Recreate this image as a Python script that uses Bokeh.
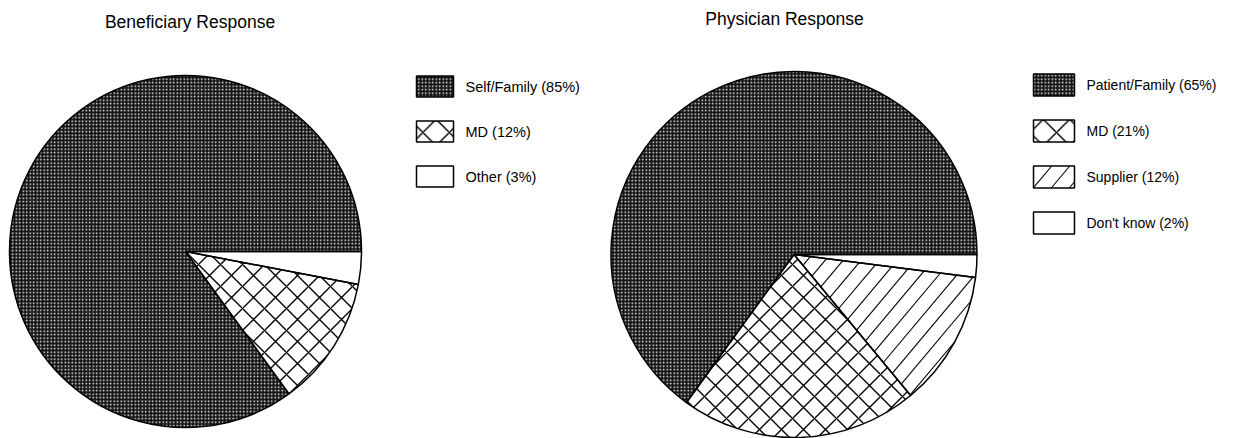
import math
from bokeh.plotting import figure
from bokeh.models import ColumnDataSource, Range1d
from bokeh.core.properties import value
from bokeh.embed import file_html
from bokeh.resources import INLINE

# ---- data ----
ben_title = "Beneficiary Response"
ben_labels = ["Self/Family", "MD", "Other"]
ben_values = [85, 12, 3]

phy_title = "Physician Response"
phy_labels = ["Patient/Family", "MD", "Supplier", "Don't know"]
phy_values = [65, 21, 12, 2]

# ---- styles ----
STYLE = {
    "Self/Family": dict(fill="#151515", pat="dot", hc="#f0f0f0", hs=3.5, hw=1.15),
    "Patient/Family": dict(fill="#151515", pat="dot", hc="#f0f0f0", hs=3.5, hw=1.15),
    "MD": dict(fill="white", pat="diagonal_cross", hc="black", hs=22, hw=1.4),
    "Supplier": dict(fill="white", pat="blank", hc="black", hs=10, hw=1, lines=True),
    "Other": dict(fill="white", pat="blank", hc="black", hs=10, hw=1),
    "Don't know": dict(fill="white", pat="blank", hc="black", hs=10, hw=1),
}
LINE_SPACING = 18      # horizontal spacing of "/" hatch lines (px)
LINE_ANGLE = math.radians(50)

W, H = 1235, 438
p = figure(width=W, height=H, output_backend="svg", toolbar_location=None,
           x_range=Range1d(0, W), y_range=Range1d(0, H), min_border=0)
p.axis.visible = False
p.grid.visible = False
p.outline_line_color = None
p.background_fill_color = "white"

FONT = value("Liberation Sans")


def clip_line(p0, d, halfplanes, circle=None, big=1e4):
    """Return (t0, t1) of the part of line p0 + t*d inside the convex region."""
    t0, t1 = -big, big
    if circle is not None:
        (ccx, ccy), r = circle
        vx, vy = p0[0] - ccx, p0[1] - ccy
        b = d[0] * vx + d[1] * vy
        c = vx * vx + vy * vy - r * r
        disc = b * b - c
        if disc <= 0:
            return None
        s = math.sqrt(disc)
        t0, t1 = max(t0, -b - s), min(t1, -b + s)
    for (nx, ny), (qx, qy) in halfplanes:
        A = nx * d[0] + ny * d[1]
        B = nx * (p0[0] - qx) + ny * (p0[1] - qy)
        if abs(A) < 1e-12:
            if B < 0:
                return None
            continue
        t = -B / A
        if A > 0:
            t0 = max(t0, t)
        else:
            t1 = min(t1, t)
    if t1 - t0 <= 0.5:
        return None
    return t0, t1


def line_family(xc, yc, extent, halfplanes, circle=None):
    d = (math.cos(LINE_ANGLE), math.sin(LINE_ANGLE))
    n = int(2 * extent / LINE_SPACING) + 4
    xs0, ys0, xs1, ys1 = [], [], [], []
    for k in range(-n, n + 1):
        p0 = (xc + k * LINE_SPACING, yc)
        res = clip_line(p0, d, halfplanes, circle)
        if res is None:
            continue
        t0, t1 = res
        xs0.append(p0[0] + t0 * d[0]); ys0.append(p0[1] + t0 * d[1])
        xs1.append(p0[0] + t1 * d[0]); ys1.append(p0[1] + t1 * d[1])
    return xs0, ys0, xs1, ys1


def pie(labels, values, cx, cy, r, title, tx, ty, lx, ly0, lstep, bw, bh, lfs):
    total = float(sum(values))
    starts, ends = [], []
    acc = 0.0
    for v in values:
        starts.append(acc / total * 2 * math.pi)
        acc += v
        ends.append(acc / total * 2 * math.pi)
    n = len(labels)
    src = ColumnDataSource(dict(
        start=starts, end=ends,
        fill=[STYLE[l]["fill"] for l in labels],
        pat=[STYLE[l]["pat"] for l in labels],
        hc=[STYLE[l]["hc"] for l in labels],
        hs=[STYLE[l]["hs"] for l in labels],
        hw=[STYLE[l]["hw"] for l in labels],
    ))
    p.wedge(x=cx, y=cy, radius=r, start_angle="start", end_angle="end",
            direction="anticlock", source=src, fill_color="fill",
            hatch_pattern="pat", hatch_color="hc", hatch_scale="hs",
            hatch_weight="hw", line_color=None)

    # legend boxes
    ys = [ly0 - i * lstep for i in range(n)]
    lsrc = ColumnDataSource(dict(
        x=[lx + bw / 2] * n, y=ys,
        fill=[STYLE[l]["fill"] for l in labels],
        pat=[STYLE[l]["pat"] for l in labels],
        hc=[STYLE[l]["hc"] for l in labels],
        hs=[STYLE[l]["hs"] if STYLE[l]["pat"] == "dot" else STYLE[l]["hs"] * 1.2 for l in labels],
        hw=[STYLE[l]["hw"] for l in labels],
        txt=[f"{l} ({v}%)" for l, v in zip(labels, values)],
        tx=[lx + bw + 12] * n,
    ))
    p.rect(x="x", y="y", width=bw, height=bh, source=lsrc, fill_color="fill",
           hatch_pattern="pat", hatch_color="hc", hatch_scale="hs",
           hatch_weight="hw", line_color=None)

    # "/" line hatch for slices/boxes that need it
    for i, l in enumerate(labels):
        if not STYLE[l].get("lines"):
            continue
        a1, a2 = starts[i], ends[i]
        u1 = (math.cos(a1), math.sin(a1))
        u2 = (math.cos(a2), math.sin(a2))
        hp = [((-u1[1], u1[0]), (cx, cy)), ((u2[1], -u2[0]), (cx, cy))]
        sx0, sy0, sx1, sy1 = line_family(cx, cy, r, hp, circle=((cx, cy), r))
        p.segment(x0=sx0, y0=sy0, x1=sx1, y1=sy1, line_color="black", line_width=1.1)
        bx0, bx1 = lx, lx + bw
        by0, by1 = ys[i] - bh / 2, ys[i] + bh / 2
        hpr = [((1, 0), (bx0, 0)), ((-1, 0), (bx1, 0)),
               ((0, 1), (0, by0)), ((0, -1), (0, by1))]
        lx0, ly0_, lx1, ly1 = line_family(bx0 + 9, ys[i], bw, hpr)
        p.segment(x0=lx0, y0=ly0_, x1=lx1, y1=ly1, line_color="black", line_width=1.1)

    # outlines on top
    p.wedge(x=cx, y=cy, radius=r, start_angle="start", end_angle="end",
            direction="anticlock", source=src, fill_alpha=0,
            line_color="black", line_width=1.5)
    p.rect(x="x", y="y", width=bw, height=bh, source=lsrc, fill_alpha=0,
           line_color="black", line_width=1.5)

    p.text(x="tx", y="y", text="txt", source=lsrc, text_font=FONT,
           text_font_size=lfs, text_baseline="middle", text_align="left",
           text_color="black")
    p.text(x=[tx], y=[ty], text=[title], text_font=FONT, text_font_size="17.5px",
           text_baseline="middle", text_align="center", text_color="black")


pie(ben_labels, ben_values, 185, 187, 176, ben_title, 189.5, 417,
    416, 352, 45, 37, 21, "14.5px")
pie(phy_labels, phy_values, 793.5, 184, 183, phy_title, 784, 420,
    1033, 353.5, 46, 41, 22, "14px")

open("out.html", "w").write(file_html(p, INLINE))
